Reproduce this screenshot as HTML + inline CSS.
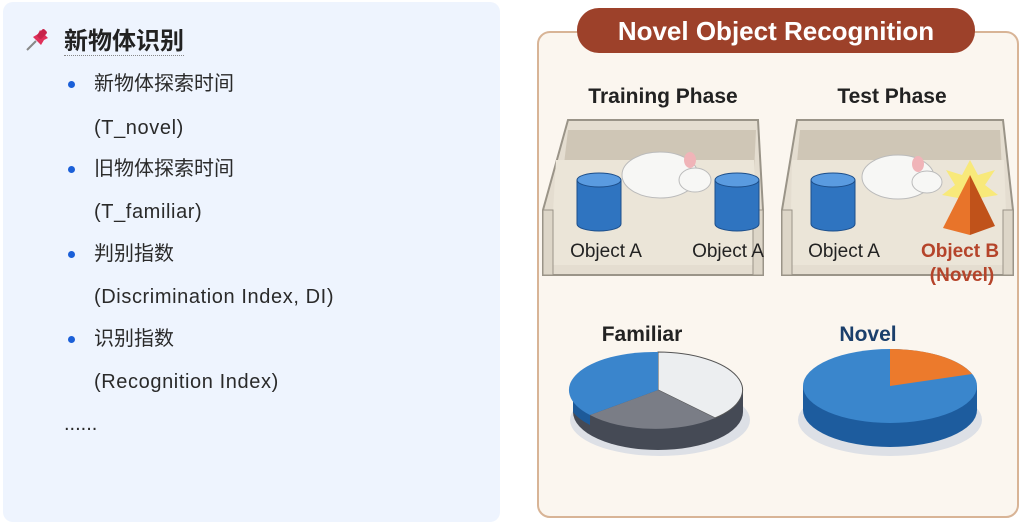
<!DOCTYPE html>
<html><head><meta charset="utf-8"><style>
body{margin:0;width:1025px;height:523px;background:#fff;position:relative;overflow:hidden;font-family:"Liberation Sans","Noto Sans CJK SC",sans-serif;}
#lp{position:absolute;left:3px;top:2px;width:497px;height:520px;background:#eef4fe;border-radius:10px;}
.t{position:absolute;font-size:20px;color:#2a2a2a;white-space:nowrap;line-height:24px;}
.l{letter-spacing:0.6px;}
.b{position:absolute;width:7px;height:7px;border-radius:50%;background:#1a5fd8;}
</style></head><body>
<div id="lp"></div>
<svg style="position:absolute;left:24px;top:27px" width="28" height="26" viewBox="0 0 28 26"><line x1="3" y1="23" x2="12" y2="14" stroke="#888" stroke-width="2"/><path d="M9 10 L17 18 L20 13 L24 11 L16 3 L14 7 Z" fill="#e0305a"/><rect x="15" y="2" width="6" height="10" rx="2" transform="rotate(45 18 7)" fill="#c8234a"/></svg>
<div class="t" style="left:64px;top:28px;font-size:24px;font-weight:bold;color:#222;border-bottom:1px dotted #888;line-height:27px">新物体识别</div>
<div class="b" style="left:68px;top:81px"></div><div class="t" style="left:94px;top:72px">新物体探索时间</div>
<div class="t l" style="left:94px;top:116px">(T_novel)</div>
<div class="b" style="left:68px;top:166px"></div><div class="t" style="left:94px;top:157px">旧物体探索时间</div>
<div class="t l" style="left:94px;top:200px">(T_familiar)</div>
<div class="b" style="left:68px;top:251px"></div><div class="t" style="left:94px;top:242px">判别指数</div>
<div class="t l" style="left:94px;top:285px">(Discrimination Index, DI)</div>
<div class="b" style="left:68px;top:336px"></div><div class="t" style="left:94px;top:327px">识别指数</div>
<div class="t l" style="left:94px;top:370px">(Recognition Index)</div>
<div class="t" style="left:64px;top:412px">......</div>

<svg style="position:absolute;left:0;top:0" width="1025" height="523" viewBox="0 0 1025 523" font-family="Liberation Sans, sans-serif">
<rect x="538" y="32" width="480" height="485" rx="12" fill="#fbf6ef" stroke="#d8b496" stroke-width="2"/>
<rect x="577" y="8" width="398" height="45" rx="22" fill="#9d412a"/>
<text x="776" y="40" text-anchor="middle" font-size="26" font-weight="bold" fill="#fff">Novel Object Recognition</text>
<text x="663" y="103" text-anchor="middle" font-size="21" font-weight="bold" fill="#222">Training Phase</text>
<text x="892" y="103" text-anchor="middle" font-size="21" font-weight="bold" fill="#222">Test Phase</text>
<g>
<path d="M543 275 L543 210 L568 120 L758 120 L763 210 L763 275 Z" fill="#e4ddd0" stroke="#9a9488" stroke-width="2"/>
<path d="M568 130 L756 130 L752 215 L558 215 Z" fill="#cfc6b6"/>
<path d="M556 160 L754 160 L758 265 L550 265 Z" fill="#ebe5d8"/>
<rect x="543" y="210" width="10" height="65" fill="#ddd6c8" stroke="#9a9488"/>
<rect x="753" y="210" width="10" height="65" fill="#ddd6c8" stroke="#9a9488"/>
<path d="M782 275 L782 210 L797 120 L1003 120 L1013 210 L1013 275 Z" fill="#e4ddd0" stroke="#9a9488" stroke-width="2"/>
<path d="M800 130 L1000 130 L1004 215 L792 215 Z" fill="#cfc6b6"/>
<path d="M792 160 L1004 160 L1008 265 L790 265 Z" fill="#ebe5d8"/>
<rect x="782" y="210" width="10" height="65" fill="#ddd6c8" stroke="#9a9488"/>
<rect x="1003" y="210" width="10" height="65" fill="#ddd6c8" stroke="#9a9488"/>
</g>
<g fill="#2f74c0" stroke="#1c4e8a">
<path d="M577 180 L577 224 A22 7 0 0 0 621 224 L621 180 Z"/><ellipse cx="599" cy="180" rx="22" ry="7" fill="#5a9be0"/>
<path d="M715 180 L715 224 A22 7 0 0 0 759 224 L759 180 Z"/><ellipse cx="737" cy="180" rx="22" ry="7" fill="#5a9be0"/>
<path d="M811 180 L811 224 A22 7 0 0 0 855 224 L855 180 Z"/><ellipse cx="833" cy="180" rx="22" ry="7" fill="#5a9be0"/>
</g>
<ellipse cx="660" cy="175" rx="38" ry="23" fill="#f7f7f5" stroke="#bbb"/><ellipse cx="695" cy="180" rx="16" ry="12" fill="#f7f7f5" stroke="#bbb"/><ellipse cx="690" cy="160" rx="6" ry="8" fill="#f0b4b8"/>
<ellipse cx="898" cy="177" rx="36" ry="22" fill="#f7f7f5" stroke="#bbb"/><ellipse cx="927" cy="182" rx="15" ry="11" fill="#f7f7f5" stroke="#bbb"/><ellipse cx="918" cy="164" rx="6" ry="8" fill="#f0b4b8"/>
<polygon points="970,160 978,175 995,170 985,185 998,195 980,198 985,215 970,205 955,215 958,198 942,195 955,185 946,170 962,175" fill="#f8e97a"/>
<polygon points="970,175 943,228 970,235" fill="#e8742a"/><polygon points="970,175 995,226 970,235" fill="#c0521a"/>
<g font-size="19" fill="#222">
<text x="606" y="257" text-anchor="middle">Object A</text>
<text x="728" y="257" text-anchor="middle">Object A</text>
<text x="844" y="257" text-anchor="middle">Object A</text>
</g>
<text x="960" y="257" text-anchor="middle" font-size="19" font-weight="bold" fill="#b5442a">Object B</text>
<text x="962" y="281" text-anchor="middle" font-size="19" font-weight="bold" fill="#b5442a">(Novel)</text>
<text x="642" y="341" text-anchor="middle" font-size="21" font-weight="bold" fill="#222">Familiar</text>
<text x="868" y="341" text-anchor="middle" font-size="21" font-weight="bold" fill="#1b3f6b">Novel</text>
<ellipse cx="660" cy="420" rx="90" ry="36" fill="#dde0e6"/>
<path d="M573 390 L573 412 A85 38 0 0 0 743 412 L743 390 Z" fill="#454a55"/>
<path d="M573 390 L573 412 A85 38 0 0 0 590 425 L590 403 Z" fill="#1d5a99"/>
<path d="M658 390 L658 352 A85 38 0 0 1 715 418 Z" fill="#eceef0" stroke="#555"/>
<path d="M658 390 L715 418 A85 38 0 0 1 590 415 Z" fill="#7a7d86"/>
<path d="M658 390 L590 415 A85 38 0 0 1 658 352 Z" fill="#3a85cc"/>
<ellipse cx="890" cy="420" rx="92" ry="36" fill="#dde0e6"/>
<path d="M803 386 L803 410 A87 37 0 0 0 977 410 L977 386 Z" fill="#1d5c9e"/>
<ellipse cx="890" cy="386" rx="87" ry="37" fill="#3a86cc"/>
<path d="M890 386 L890 349 A87 37 0 0 1 972 374 Z" fill="#ec7a2c"/>
</svg>
</body></html>
